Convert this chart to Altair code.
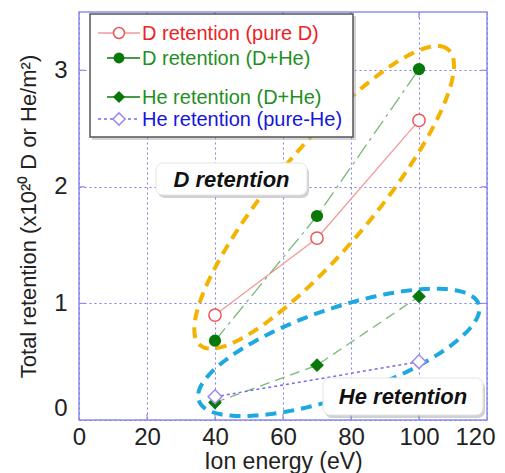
import altair as alt
import pandas as pd
import numpy as np

# ---------------- data ----------------
energy = [40, 70, 100]
d_pure = [0.90, 1.56, 2.57]        # D retention (pure D)
d_mix = [0.68, 1.75, 3.01]         # D retention (D+He)
he_mix = [0.15, 0.47, 1.06]        # He retention (D+He)
energy_he_pure = [40, 100]
he_pure = [0.20, 0.50]             # He retention (pure-He)

x_ticks = [0, 20, 40, 60, 80, 100, 120]
y_ticks = [0, 1, 2, 3]
X_MAX, Y_MAX = 120, 3.5
W, H = 408, 408
FONT = "Liberation Sans"

legend_labels = ["D retention (pure D)", "D retention (D+He)",
                 "He retention (D+He)", "He retention (pure-He)"]

# ---------------- helpers ----------------
x_scale = alt.Scale(domain=[0, X_MAX], nice=False, zero=False)
y_scale = alt.Scale(domain=[0, Y_MAX], nice=False, zero=False)
grid_col = "#7f7fe8"
x_axis = alt.Axis(values=x_ticks, grid=True, gridDash=[2, 3], gridColor=grid_col, gridWidth=1,
                  domain=False, ticks=False, labelFontSize=24, labelFont=FONT, labelColor="#222",
                  labelPadding=5, titleFontSize=23, titleFont=FONT, titleFontWeight="normal",
                  titleColor="#222", titlePadding=1, labelFlush=False,
                  labelOffset={"condition": {"test": "datum.value == 120", "value": -12},
                               "value": 0})
y_axis = alt.Axis(values=y_ticks, grid=True, gridDash=[2, 3], gridColor=grid_col, gridWidth=1,
                  domain=False, ticks=False, labelFontSize=24, labelFont=FONT, labelColor="#222",
                  labelPadding=12, titleFontSize=22, titleFont=FONT, titleFontWeight="normal",
                  titleColor="#222", titlePadding=13, labelFlush=True)


def enc(chart):
    return chart.encode(
        x=alt.X("energy:Q", scale=x_scale, axis=x_axis, title="Ion energy (eV)"),
        y=alt.Y("value:Q", scale=y_scale, axis=y_axis,
                title="Total retention (x10²⁰ D or He/m²)"),
    )


df_dp = pd.DataFrame({"energy": energy, "value": d_pure})
df_dm = pd.DataFrame({"energy": energy, "value": d_mix})
df_hm = pd.DataFrame({"energy": energy, "value": he_mix})
df_hp = pd.DataFrame({"energy": energy_he_pure, "value": he_pure})


def ellipse(cx, cy, a_px, b_px, ang_deg, n=240):
    t = np.linspace(0, 2 * np.pi, n)
    ang = np.deg2rad(ang_deg)
    dx = a_px * np.cos(t) * np.cos(ang) - b_px * np.sin(t) * np.sin(ang)
    dy = a_px * np.cos(t) * np.sin(ang) + b_px * np.sin(t) * np.cos(ang)
    return pd.DataFrame({"energy": cx + dx / (W / X_MAX),
                         "value": cy + dy / (H / Y_MAX),
                         "i": np.arange(n)})


ell_d = ellipse(72.1, 1.91, 193, 50, 50)
ell_he = ellipse(76.4, 0.58, 148, 44, 19)

ell_layers = [
    enc(alt.Chart(ell_d).mark_line(color="#f2b400", strokeWidth=4, strokeDash=[11, 7]))
    .encode(order="i:Q"),
    enc(alt.Chart(ell_he).mark_line(color="#1ea8e0", strokeWidth=4, strokeDash=[11, 7]))
    .encode(order="i:Q"),
]

series_layers = [
    enc(alt.Chart(df_dp).mark_line(color="#f29a9a", strokeWidth=1.3)),
    enc(alt.Chart(df_dm).mark_line(color="#78b878", strokeWidth=1.3, strokeDash=[16, 5, 3, 5])),
    enc(alt.Chart(df_hm).mark_line(color="#78b878", strokeWidth=1.3, strokeDash=[10, 6])),
    enc(alt.Chart(df_hp).mark_line(color="#7a6ae8", strokeWidth=1.5, strokeDash=[3, 3])),
    enc(alt.Chart(df_dp).mark_point(shape="circle", size=150, filled=True, fill="white",
                                    stroke="#ee5555", strokeWidth=1.5, opacity=1)),
    enc(alt.Chart(df_dm).mark_point(shape="circle", size=150, filled=True, color="#087808",
                                    opacity=1)),
    enc(alt.Chart(df_hm).mark_point(shape="diamond", size=190, filled=True, color="#087808",
                                    opacity=1)),
    enc(alt.Chart(df_hp).mark_point(shape="diamond", size=190, filled=True, fill="white",
                                    stroke="#9a8af0", strokeWidth=1.5, opacity=1)),
]

# inward ticks on all four sides
frame_col = "#8c8cf0"
xt = pd.DataFrame({"energy": x_ticks[1:-1]})
yt = pd.DataFrame({"value": y_ticks[1:]})
tick_layers = [
    alt.Chart(xt).mark_rule(color=frame_col, strokeWidth=1.2).encode(
        x=alt.X("energy:Q", scale=x_scale, axis=x_axis), y=alt.value(H), y2=alt.value(H - 6)),
    alt.Chart(xt).mark_rule(color=frame_col, strokeWidth=1.2).encode(
        x=alt.X("energy:Q", scale=x_scale, axis=x_axis), y=alt.value(0), y2=alt.value(6)),
    alt.Chart(yt).mark_rule(color=frame_col, strokeWidth=1.2).encode(
        y=alt.Y("value:Q", scale=y_scale, axis=y_axis), x=alt.value(0), x2=alt.value(6)),
    alt.Chart(yt).mark_rule(color=frame_col, strokeWidth=1.2).encode(
        y=alt.Y("value:Q", scale=y_scale, axis=y_axis), x=alt.value(W), x2=alt.value(W - 6)),
]

one = pd.DataFrame({"k": [0]})


def box(x1, x2, y1, y2, label, tx, ty):
    shadow = alt.Chart(one).mark_rect(color="#999", opacity=0.45, cornerRadius=7).encode(
        x=alt.value(x1 + 2), x2=alt.value(x2 + 2), y=alt.value(y1 + 3), y2=alt.value(y2 + 3))
    rect = alt.Chart(one).mark_rect(fill="white", stroke="#e4e4e4", strokeWidth=1,
                                    cornerRadius=7).encode(
        x=alt.value(x1), x2=alt.value(x2), y=alt.value(y1), y2=alt.value(y2))
    txt = alt.Chart(one).mark_text(font=FONT, fontSize=22, fontWeight="bold", fontStyle="italic",
                                   color="#111", align="center", baseline="middle").encode(
        x=alt.value(tx), y=alt.value(ty), text=alt.value(label))
    return [shadow, rect, txt]


box_layers = box(77, 228, 151, 183, "D retention", 152.5, 168) + \
    box(244, 404, 366, 403, "He retention", 324, 385)

# ---------------- legend ----------------
leg_rows = [21, 46, 85, 107]
leg_colors = ["#ee2222", "#1f8f1f", "#1f8f1f", "#1515dd"]
leg_line_cols = ["#f29a9a", "#0a7a0a", "#0a7a0a", "#7a6ae8"]
leg_dash = [[1, 0], [1, 0], [1, 0], [3, 3]]
leg_x1 = [19, 28, 28, 19]
legend_layers = [
    alt.Chart(one).mark_rect(fill="#aaa", opacity=0.5).encode(
        x=alt.value(13), x2=alt.value(277), y=alt.value(4), y2=alt.value(128)),
    alt.Chart(one).mark_rect(fill="white", stroke="#555", strokeWidth=1.5).encode(
        x=alt.value(11), x2=alt.value(274), y=alt.value(2), y2=alt.value(125)),
]
leg_marks = [
    dict(shape="circle", size=120, filled=True, fill="white", stroke="#ee5555", strokeWidth=1.5),
    dict(shape="circle", size=120, filled=True, color="#087808"),
    dict(shape="diamond", size=150, filled=True, color="#087808"),
    dict(shape="diamond", size=150, filled=True, fill="white", stroke="#9a8af0", strokeWidth=1.5),
]
for i, lab in enumerate(legend_labels):
    ry = leg_rows[i]
    legend_layers.append(
        alt.Chart(one).mark_rule(color=leg_line_cols[i], strokeWidth=1.3,
                                 strokeDash=leg_dash[i]).encode(
            x=alt.value(leg_x1[i]), x2=alt.value(61), y=alt.value(ry)))
    legend_layers.append(
        alt.Chart(one).mark_point(opacity=1, **leg_marks[i]).encode(
            x=alt.value(40), y=alt.value(ry)))
    legend_layers.append(
        alt.Chart(one).mark_text(font=FONT, fontSize=20, color=leg_colors[i], align="left",
                                 baseline="middle").encode(
            x=alt.value(63), y=alt.value(ry + 1), text=alt.value(lab)))

chart = alt.layer(*(ell_layers + series_layers + tick_layers + box_layers + legend_layers)).properties(
    width=W, height=H,
    autosize=alt.AutoSizeParams(type="none"),
    padding={"left": 79, "top": 12, "right": 18, "bottom": 53},
    background="white",
).configure_view(stroke=frame_col, strokeWidth=1.5)

chart.save("out.html", embed_options={"renderer": "svg", "actions": False})
